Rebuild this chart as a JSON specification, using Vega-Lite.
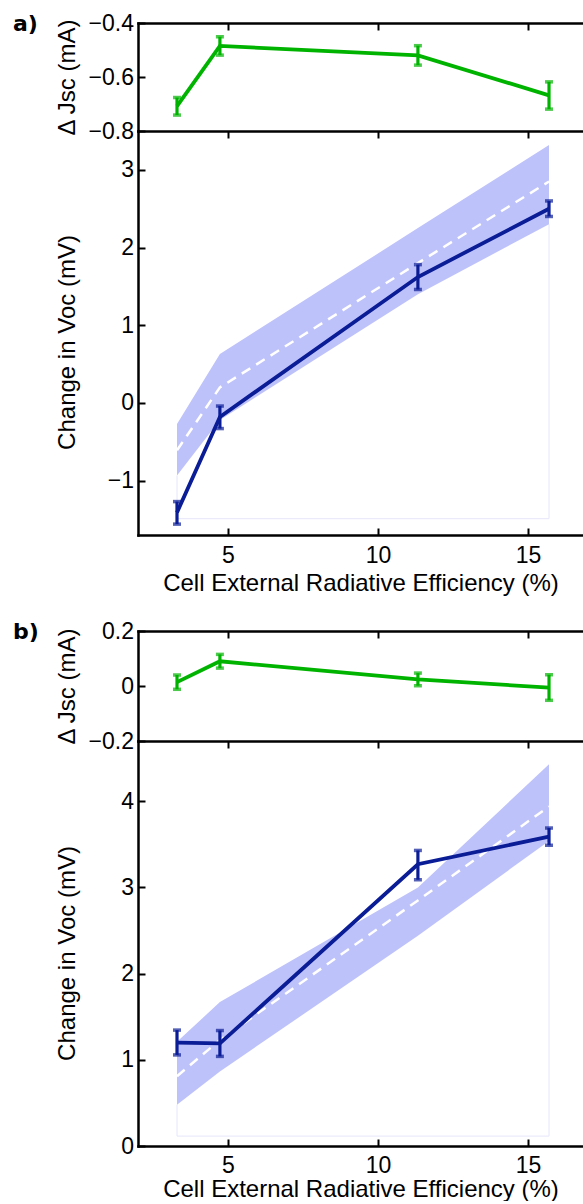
{
  "$schema": "https://vega.github.io/schema/vega-lite/v6.json",
  "padding": {"left": 13, "top": 12, "right": 0, "bottom": 0},
  "background": "white",
  "config": {
    "view": {"stroke": null},
    "axis": {
      "labelFont": "Liberation Sans", "titleFont": "Liberation Sans",
      "labelFontSize": 23, "titleFontSize": 24, "titleFontWeight": "normal",
      "labelColor": "black", "titleColor": "black",
      "domainColor": "black", "domainWidth": 2.5, "domainCap": "square",
      "tickColor": "black", "tickWidth": 2, "tickSize": -7,
      "grid": false, "labelFlush": false, "labelOverlap": false
    }
  },
  "datasets": {
    "a": [
      {"x": 3.3, "jsc": -0.708, "jsc_lo": -0.741, "jsc_hi": -0.676, "voc": -1.41, "voc_lo": -1.56, "voc_hi": -1.27, "model": -0.61, "band_lo": -0.935, "band_hi": -0.27},
      {"x": 4.73, "jsc": -0.485, "jsc_lo": -0.519, "jsc_hi": -0.451, "voc": -0.18, "voc_lo": -0.33, "voc_hi": -0.04, "model": 0.2, "band_lo": -0.22, "band_hi": 0.63},
      {"x": 11.33, "jsc": -0.52, "jsc_lo": -0.556, "jsc_hi": -0.484, "voc": 1.62, "voc_lo": 1.46, "voc_hi": 1.78, "model": 1.8, "band_lo": 1.4, "band_hi": 2.25},
      {"x": 15.7, "jsc": -0.668, "jsc_lo": -0.719, "jsc_hi": -0.618, "voc": 2.5, "voc_lo": 2.4, "voc_hi": 2.6, "model": 2.85, "band_lo": 2.3, "band_hi": 3.32}
    ],
    "b": [
      {"x": 3.3, "jsc": 0.014, "jsc_lo": -0.012, "jsc_hi": 0.04, "voc": 1.2, "voc_lo": 1.057, "voc_hi": 1.345, "model": 0.81, "band_lo": 0.48, "band_hi": 1.21},
      {"x": 4.73, "jsc": 0.09, "jsc_lo": 0.065, "jsc_hi": 0.115, "voc": 1.19, "voc_lo": 1.04, "voc_hi": 1.34, "model": 1.23, "band_lo": 0.865, "band_hi": 1.67},
      {"x": 11.33, "jsc": 0.024, "jsc_lo": 0.001, "jsc_hi": 0.047, "voc": 3.27, "voc_lo": 3.09, "voc_hi": 3.43, "model": 2.85, "band_lo": 2.44, "band_hi": 3.0},
      {"x": 15.7, "jsc": -0.006, "jsc_lo": -0.052, "jsc_hi": 0.041, "voc": 3.59, "voc_lo": 3.49, "voc_hi": 3.69, "model": 3.94, "band_lo": 3.54, "band_hi": 4.43}
    ],
    "outline_a": [
      {"x": 3.3, "x2": 3.3, "y": -1.49, "y2": -0.935},
      {"x": 3.3, "x2": 15.7, "y": -1.49, "y2": -1.49},
      {"x": 15.7, "x2": 15.7, "y": -1.49, "y2": 2.3}
    ],
    "outline_b": [
      {"x": 3.3, "x2": 3.3, "y": 0.115, "y2": 0.48},
      {"x": 3.3, "x2": 15.7, "y": 0.115, "y2": 0.115},
      {"x": 15.7, "x2": 15.7, "y": 0.115, "y2": 3.54}
    ]
  },
  "bounds": "flush",
  "spacing": 0,
  "vconcat": [
    {
      "width": 445, "height": 108,
      "title": {"text": "a)", "anchor": "start", "frame": "group", "font": "DejaVu Sans", "fontSize": 22, "fontWeight": "bold", "color": "black", "baseline": "middle", "offset": 0, "dx": -125, "dy": 33.5},
      "data": {"name": "a"},
      "layer": [
        {"mark": {"type": "line", "color": "#00b300", "strokeWidth": 3.8},
         "encoding": {
           "x": {"field": "x", "type": "quantitative", "scale": {"domain": [2, 16.833], "nice": false, "zero": false}, "axis": {"orient": "top", "values": [5, 10, 15], "labels": false, "title": null}},
           "y": {"field": "jsc", "type": "quantitative", "scale": {"domain": [-0.8, -0.4], "nice": false, "zero": false}, "axis": {"values": [-0.8, -0.6, -0.4], "format": "~g", "labelPadding": 11.5, "title": "Δ Jsc (mA)", "titleX": -59, "titleY": 54, "titleAngle": 270, "titleBaseline": "bottom"}}
         }},
        {"mark": {"type": "rule", "color": "#00b300", "strokeWidth": 3.2},
         "encoding": {"x": {"field": "x", "type": "quantitative", "axis": null}, "y": {"field": "jsc_lo", "type": "quantitative", "axis": null}, "y2": {"field": "jsc_hi"}}},
        {"mark": {"type": "tick", "orient": "horizontal", "color": "#00b300", "size": 8, "thickness": 3.5},
         "encoding": {"x": {"field": "x", "type": "quantitative", "axis": null}, "y": {"field": "jsc_lo", "type": "quantitative", "axis": null}}},
        {"mark": {"type": "tick", "orient": "horizontal", "color": "#00b300", "size": 8, "thickness": 3.5},
         "encoding": {"x": {"field": "x", "type": "quantitative", "axis": null}, "y": {"field": "jsc_hi", "type": "quantitative", "axis": null}}}
      ],
      "resolve": {"axis": {"x": "independent", "y": "independent"}}
    },
    {
      "width": 445, "height": 404,
      "data": {"name": "a"},
      "layer": [
        {"data": {"name": "outline_a"},
         "mark": {"type": "rule", "color": "#e6e6fb", "strokeWidth": 1},
         "encoding": {"x": {"field": "x", "type": "quantitative", "axis": null, "scale": {"domain": [2, 16.833], "nice": false, "zero": false}}, "x2": {"field": "x2"}, "y": {"field": "y", "type": "quantitative", "axis": null, "scale": {"domain": [-1.7, 3.5], "nice": false, "zero": false}}, "y2": {"field": "y2"}}},
        {"mark": {"type": "area", "color": "#bec2fa", "opacity": 1},
         "encoding": {
           "x": {"field": "x", "type": "quantitative", "axis": {"orient": "top", "values": [5, 10, 15], "labels": false, "title": null}},
           "y": {"field": "band_lo", "type": "quantitative", "axis": {"values": [-1, 0, 1, 2, 3], "format": "~g", "labelPadding": 11.5, "title": "Change in Voc (mV)", "titleX": -59, "titleY": 211, "titleAngle": 270, "titleBaseline": "bottom"}},
           "y2": {"field": "band_hi"}
         }},
        {"mark": {"type": "line", "color": "white", "strokeWidth": 2.5, "strokeDash": [10, 7]},
         "encoding": {"x": {"field": "x", "type": "quantitative", "axis": null}, "y": {"field": "model", "type": "quantitative", "axis": null}}},
        {"mark": {"type": "line", "color": "#0a1c96", "strokeWidth": 3.8},
         "encoding": {
           "x": {"field": "x", "type": "quantitative", "axis": {"orient": "bottom", "values": [5, 10, 15], "labelPadding": 16, "title": "Cell External Radiative Efficiency (%)", "titlePadding": 4}},
           "y": {"field": "voc", "type": "quantitative", "axis": null}
         }},
        {"mark": {"type": "rule", "color": "#0a1c96", "strokeWidth": 3.2},
         "encoding": {"x": {"field": "x", "type": "quantitative", "axis": null}, "y": {"field": "voc_lo", "type": "quantitative", "axis": null}, "y2": {"field": "voc_hi"}}},
        {"mark": {"type": "tick", "orient": "horizontal", "color": "#0a1c96", "size": 8, "thickness": 3.5},
         "encoding": {"x": {"field": "x", "type": "quantitative", "axis": null}, "y": {"field": "voc_lo", "type": "quantitative", "axis": null}}},
        {"mark": {"type": "tick", "orient": "horizontal", "color": "#0a1c96", "size": 8, "thickness": 3.5},
         "encoding": {"x": {"field": "x", "type": "quantitative", "axis": null}, "y": {"field": "voc_hi", "type": "quantitative", "axis": null}}}
      ],
      "resolve": {"axis": {"x": "independent", "y": "independent"}}
    },
    {
      "width": 445, "height": 96,
      "data": {"values": []},
      "mark": {"type": "point", "opacity": 0},
      "encoding": {}
    },
    {
      "width": 445, "height": 110,
      "title": {"text": "b)", "anchor": "start", "frame": "group", "font": "DejaVu Sans", "fontSize": 22, "fontWeight": "bold", "color": "black", "baseline": "middle", "offset": 0, "dx": -125, "dy": 33.5},
      "data": {"name": "b"},
      "layer": [
        {"mark": {"type": "line", "color": "#00b300", "strokeWidth": 3.8},
         "encoding": {
           "x": {"field": "x", "type": "quantitative", "scale": {"domain": [2, 16.833], "nice": false, "zero": false}, "axis": {"orient": "top", "values": [5, 10, 15], "labels": false, "title": null}},
           "y": {"field": "jsc", "type": "quantitative", "scale": {"domain": [-0.2, 0.2], "nice": false, "zero": false}, "axis": {"values": [-0.2, 0, 0.2], "format": "~g", "labelPadding": 11.5, "title": "Δ Jsc (mA)", "titleX": -59, "titleY": 55, "titleAngle": 270, "titleBaseline": "bottom"}}
         }},
        {"mark": {"type": "rule", "color": "#00b300", "strokeWidth": 3.2},
         "encoding": {"x": {"field": "x", "type": "quantitative", "axis": null}, "y": {"field": "jsc_lo", "type": "quantitative", "axis": null}, "y2": {"field": "jsc_hi"}}},
        {"mark": {"type": "tick", "orient": "horizontal", "color": "#00b300", "size": 8, "thickness": 3.5},
         "encoding": {"x": {"field": "x", "type": "quantitative", "axis": null}, "y": {"field": "jsc_lo", "type": "quantitative", "axis": null}}},
        {"mark": {"type": "tick", "orient": "horizontal", "color": "#00b300", "size": 8, "thickness": 3.5},
         "encoding": {"x": {"field": "x", "type": "quantitative", "axis": null}, "y": {"field": "jsc_hi", "type": "quantitative", "axis": null}}}
      ],
      "resolve": {"axis": {"x": "independent", "y": "independent"}}
    },
    {
      "width": 445, "height": 405,
      "data": {"name": "b"},
      "layer": [
        {"data": {"name": "outline_b"},
         "mark": {"type": "rule", "color": "#e6e6fb", "strokeWidth": 1},
         "encoding": {"x": {"field": "x", "type": "quantitative", "axis": null, "scale": {"domain": [2, 16.833], "nice": false, "zero": false}}, "x2": {"field": "x2"}, "y": {"field": "y", "type": "quantitative", "axis": null, "scale": {"domain": [0, 4.7], "nice": false, "zero": false}}, "y2": {"field": "y2"}}},
        {"mark": {"type": "area", "color": "#bec2fa", "opacity": 1},
         "encoding": {
           "x": {"field": "x", "type": "quantitative", "axis": {"orient": "top", "values": [5, 10, 15], "labels": false, "title": null}},
           "y": {"field": "band_lo", "type": "quantitative", "axis": {"values": [0, 1, 2, 3, 4], "format": "~g", "labelPadding": 11.5, "title": "Change in Voc (mV)", "titleX": -59, "titleY": 212, "titleAngle": 270, "titleBaseline": "bottom"}},
           "y2": {"field": "band_hi"}
         }},
        {"mark": {"type": "line", "color": "white", "strokeWidth": 2.5, "strokeDash": [10, 7]},
         "encoding": {"x": {"field": "x", "type": "quantitative", "axis": null}, "y": {"field": "model", "type": "quantitative", "axis": null}}},
        {"mark": {"type": "line", "color": "#0a1c96", "strokeWidth": 3.8},
         "encoding": {
           "x": {"field": "x", "type": "quantitative", "axis": {"orient": "bottom", "values": [5, 10, 15], "labelPadding": 15, "title": "Cell External Radiative Efficiency (%)", "titlePadding": 0}},
           "y": {"field": "voc", "type": "quantitative", "axis": null}
         }},
        {"mark": {"type": "rule", "color": "#0a1c96", "strokeWidth": 3.2},
         "encoding": {"x": {"field": "x", "type": "quantitative", "axis": null}, "y": {"field": "voc_lo", "type": "quantitative", "axis": null}, "y2": {"field": "voc_hi"}}},
        {"mark": {"type": "tick", "orient": "horizontal", "color": "#0a1c96", "size": 8, "thickness": 3.5},
         "encoding": {"x": {"field": "x", "type": "quantitative", "axis": null}, "y": {"field": "voc_lo", "type": "quantitative", "axis": null}}},
        {"mark": {"type": "tick", "orient": "horizontal", "color": "#0a1c96", "size": 8, "thickness": 3.5},
         "encoding": {"x": {"field": "x", "type": "quantitative", "axis": null}, "y": {"field": "voc_hi", "type": "quantitative", "axis": null}}}
      ],
      "resolve": {"axis": {"x": "independent", "y": "independent"}}
    }
  ]
}
